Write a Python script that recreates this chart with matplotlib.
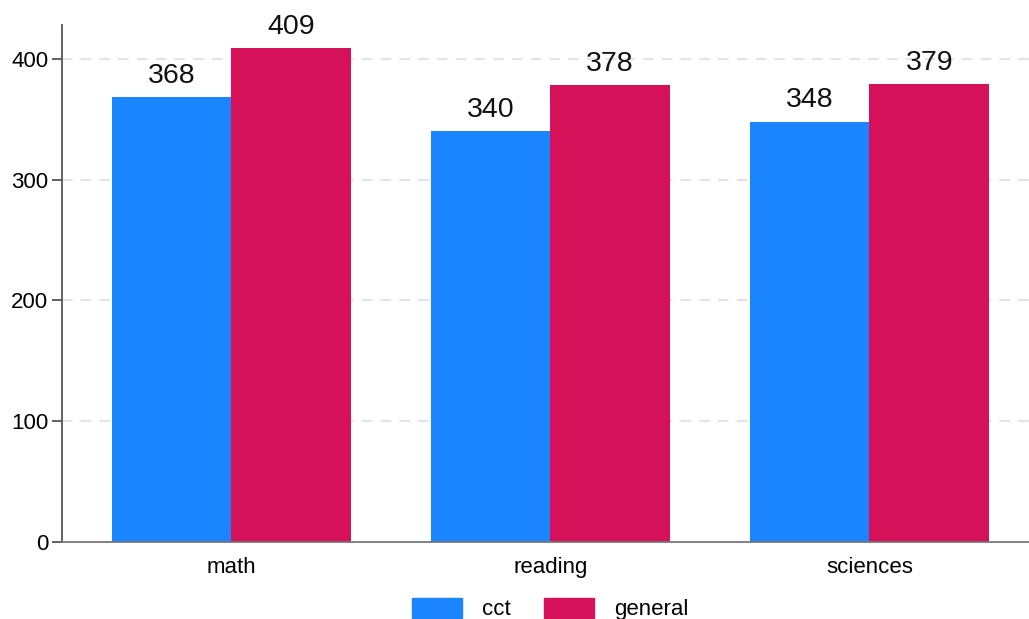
import numpy as np
import matplotlib.pyplot as plt
from matplotlib.patches import Patch

plt.rcParams['font.family'] = ['Liberation Sans', 'DejaVu Sans']

# Daten
kategorien = ['math', 'reading', 'sciences']
cct = [368, 340, 348]
general = [409, 378, 379]
serien = ['cct', 'general']
farben = ['#1a85ff', '#d41159']

fig = plt.figure(figsize=(10.29, 6.19), dpi=100)
ax = fig.add_axes([0.0603, 0.1244, 0.9397, 0.8352])

x = np.arange(len(kategorien))
breite = 0.375
balken1 = ax.bar(x - breite / 2, cct, breite, color=farben[0], zorder=2)
balken2 = ax.bar(x + breite / 2, general, breite, color=farben[1], zorder=2)

# Werte ueber den Balken
for balken in (balken1, balken2):
    for b in balken:
        h = b.get_height()
        ax.annotate(f'{h:.0f}', (b.get_x() + b.get_width() / 2, h),
                    xytext=(0, 6), textcoords='offset points',
                    ha='center', va='bottom', fontsize=20.5, color='#111111')

ax.set_xlim(-0.53, 2.5)
ax.set_ylim(0, 428)
ax.set_yticks([0, 100, 200, 300, 400])
ax.set_xticks(x)
ax.set_xticklabels(kategorien)

# Gitter nur fuer 100..400
for y in [100, 200, 300, 400]:
    ax.axhline(y, color='#e3e3e3', lw=1.5, ls=(0, (5, 4)), zorder=1)

for s in ['top', 'right']:
    ax.spines[s].set_visible(False)
ax.spines['left'].set_color('#555555')
ax.spines['bottom'].set_color('#777777')
ax.spines['left'].set_linewidth(1.3)
ax.spines['bottom'].set_linewidth(1.3)
ax.tick_params(axis='y', length=7, width=1.3, color='#555555', labelsize=16, pad=3)
ax.tick_params(axis='x', length=0, labelsize=16, pad=11)

handles = [Patch(color=farben[0]), Patch(color=farben[1])]
fig.legend(handles, serien, loc='center', bbox_to_anchor=(0.535, 0.016), ncol=2,
           frameon=False, fontsize=16, handlelength=2.25, handleheight=1.0,
           handletextpad=0.9, columnspacing=1.5)

fig.savefig('out.png', dpi=100)
